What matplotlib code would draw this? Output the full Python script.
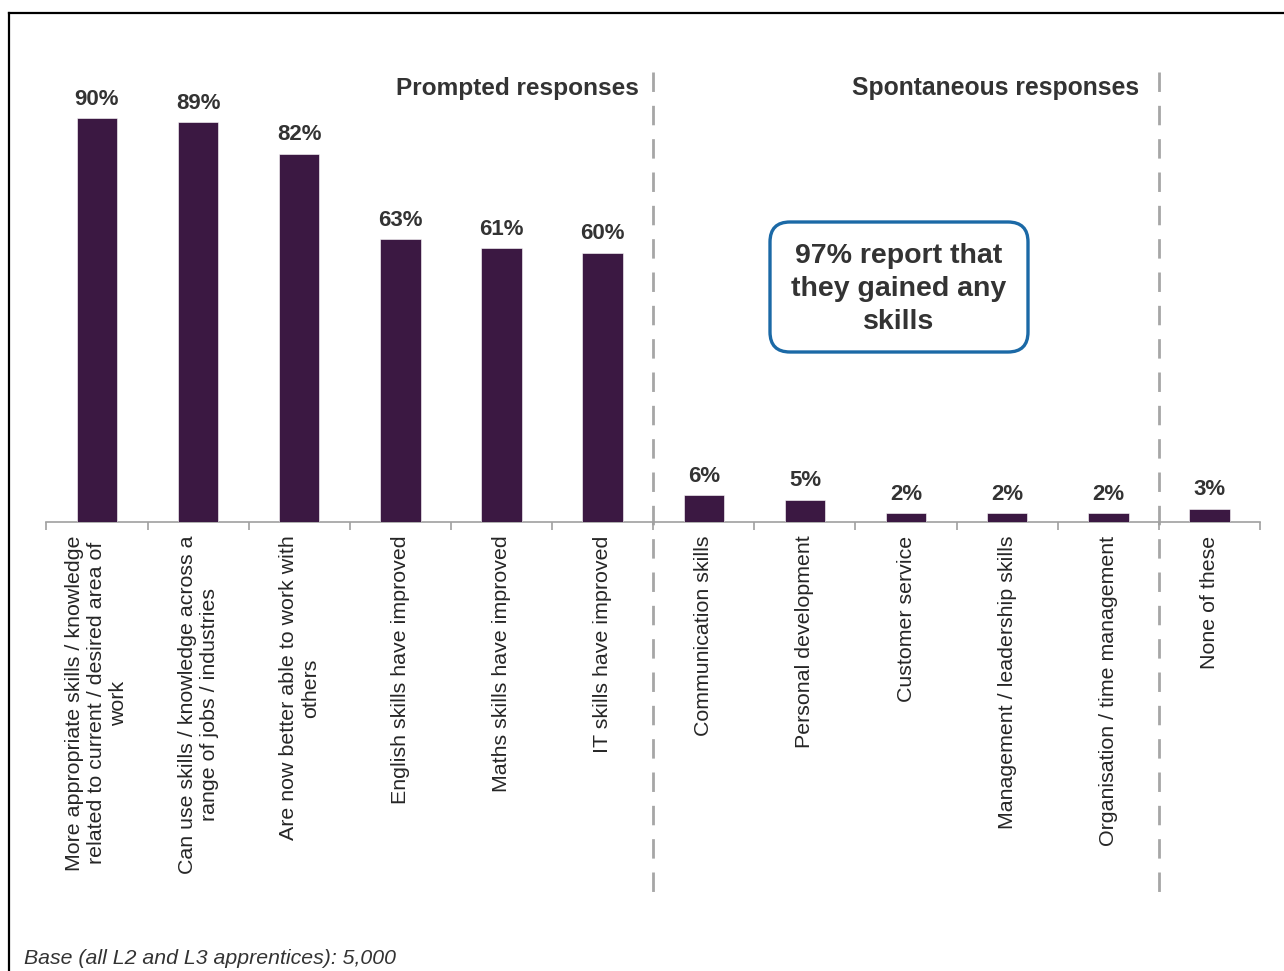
import matplotlib
matplotlib.use("Agg")
import matplotlib.pyplot as plt
from matplotlib.patches import FancyBboxPatch
from matplotlib.lines import Line2D

plt.rcParams['font.family'] = ['Liberation Sans', 'DejaVu Sans']

categories = [
    "More appropriate skills / knowledge\nrelated to current / desired area of\nwork",
    "Can use skills / knowledge across a\nrange of jobs / industries",
    "Are now better able to work with\nothers",
    "English skills have improved",
    "Maths skills have improved",
    "IT skills have improved",
    "Communication skills",
    "Personal development",
    "Customer service",
    "Management / leadership skills",
    "Organisation / time management",
    "None of these",
]
values = [90, 89, 82, 63, 61, 60, 6, 5, 2, 2, 2, 3]
value_labels = ["90%", "89%", "82%", "63%", "61%", "60%", "6%", "5%", "2%", "2%", "2%", "3%"]
section_titles = ["Prompted responses", "Spontaneous responses"]
callout = "97% report that\nthey gained any\nskills"
footnote = "Base (all L2 and L3 apprentices): 5,000"

W, H = 1284, 971
fig = plt.figure(figsize=(W / 100, H / 100), dpi=100)
ax = fig.add_axes([46.4 / W, (H - 522) / H, (1260 - 46.4) / W, 449 / H])

bar_color = '#3B1842'
text_dark = '#333333'
grey = '#A6A6A6'

x = list(range(len(values)))
ax.bar(x, values, width=0.4, color=bar_color, edgecolor='white', linewidth=0.4, zorder=3)
ax.set_xlim(-0.5, len(values) - 0.5)
ax.set_ylim(0, 100)

for xi, v, lab in zip(x, values, value_labels):
    ax.annotate(lab, (xi, v), xytext=(0, 6), textcoords='offset points',
                ha='center', va='bottom', fontsize=16, fontweight='bold', color=text_dark)

for s in ['top', 'right', 'left']:
    ax.spines[s].set_visible(False)
ax.spines['bottom'].set_color('#A0A0A0')
ax.spines['bottom'].set_linewidth(1.2)
ax.set_yticks([])
ax.set_xticks([])
ax.set_xticks([i - 0.5 for i in range(len(values) + 1)], minor=True)
ax.tick_params(axis='x', which='minor', length=6, color='#A0A0A0', width=1.2, direction='out')

for xi, lab in zip(x, categories):
    ax.text(xi, -0.03, lab, transform=ax.get_xaxis_transform(), rotation=90,
            ha='center', va='top', multialignment='center', fontsize=15.4, color='#262626')

# dashed separators
for xs in [5.5, 10.5]:
    ax.plot([xs, xs], [1.002, -0.85], transform=ax.get_xaxis_transform(), clip_on=False,
            color=grey, lw=2.0, linestyle=(0, (7, 5)), zorder=1)

fig.text(639 / W, 1 - 88 / H, section_titles[0], ha='right', va='center',
         fontsize=17.6, fontweight='bold', color=text_dark)
fig.text(1139 / W, 1 - 88 / H, section_titles[1], ha='right', va='center',
         fontsize=17.8, fontweight='bold', color=text_dark)

# callout box
box = FancyBboxPatch((770 / W, (H - 352) / H), 258 / W, 130 / H,
                     boxstyle="round,pad=0,rounding_size=%f" % (20 / W),
                     mutation_aspect=W / H, transform=fig.transFigure,
                     facecolor='white', edgecolor='#1B69A6', linewidth=2.4)
fig.patches.append(box)
fig.text(899 / W, 1 - 289 / H, callout, ha='center', va='center', multialignment='center',
         fontsize=20.5, fontweight='bold', color=text_dark, linespacing=1.33)

# frame lines
fig.add_artist(Line2D([9 / W, 1], [1 - 13 / H, 1 - 13 / H], transform=fig.transFigure,
                      color='black', lw=1.6))
fig.add_artist(Line2D([9 / W, 9 / W], [0, 1 - 13 / H], transform=fig.transFigure,
                      color='black', lw=1.6))

fig.text(24 / W, 1 - 958 / H, footnote, ha='left', va='center', fontsize=15.3,
         style='italic', color=text_dark)

fig.savefig('out.png', dpi=100)
